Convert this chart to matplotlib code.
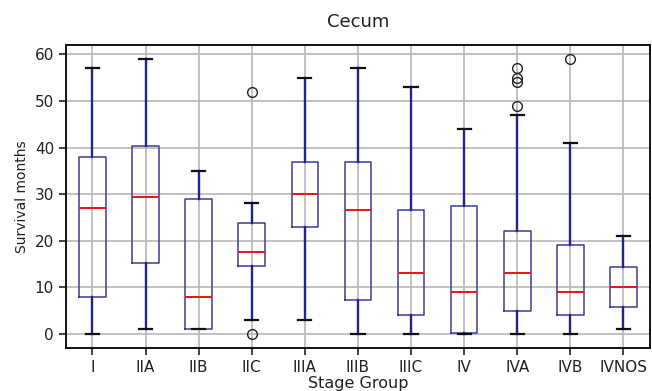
import matplotlib
matplotlib.use("Agg")
import matplotlib.pyplot as plt

# stage groups and box statistics
groups = ["I", "IIA", "IIB", "IIC", "IIIA", "IIIB", "IIIC", "IV", "IVA", "IVB", "IVNOS"]
whislo = [0, 1, 1, 3, 3, 0, 0, 0, 0, 0, 1]
q1 = [8, 15.3, 1, 14.5, 23, 7.2, 4, 0.3, 5, 4, 5.8]
med = [27, 29.4, 8, 17.5, 30, 26.5, 13, 9, 13, 9, 10]
q3 = [38, 40.3, 29, 23.8, 37, 37, 26.5, 27.5, 22, 19, 14.3]
whishi = [57, 59, 35, 28, 55, 57, 53, 44, 47, 41, 21]
fliers = [[], [], [], [52, 0], [], [], [], [], [49, 54, 55, 57], [59], []]

stats = []
for i, g in enumerate(groups):
    stats.append(dict(label=g, whislo=whislo[i], q1=q1[i], med=med[i],
                      q3=q3[i], whishi=whishi[i], fliers=fliers[i]))

fig = plt.figure(figsize=(6.52, 3.91), dpi=100)
ax = fig.add_axes([0.101, 0.110, 0.896, 0.775])

ax.bxp(stats, widths=0.5,
       boxprops=dict(color="#3d3d9e", linewidth=1.1),
       whiskerprops=dict(color="#23238c", linewidth=1.7),
       capprops=dict(color="#111111", linewidth=1.6),
       medianprops=dict(color="#ee1111", linewidth=1.4),
       flierprops=dict(marker="o", markerfacecolor="none",
                       markeredgecolor="#222222", markersize=7))

ax.set_ylim(-3, 62)
ax.set_yticks([0, 10, 20, 30, 40, 50, 60])
ax.grid(True, color="#b8b8bc", linewidth=1.2)
ax.set_axisbelow(True)
for s in ax.spines.values():
    s.set_linewidth(1.4)
    s.set_color("#111111")
ax.tick_params(labelsize=11, length=5, width=1.2, colors="#222222")

ax.set_title("Cecum", fontsize=13, pad=13, color="#222222")
ax.set_xlabel("Stage Group", fontsize=11.5, labelpad=1, color="#222222")
ax.set_ylabel("Survival months", fontsize=10, color="#222222")

fig.savefig("out.png", dpi=100)
